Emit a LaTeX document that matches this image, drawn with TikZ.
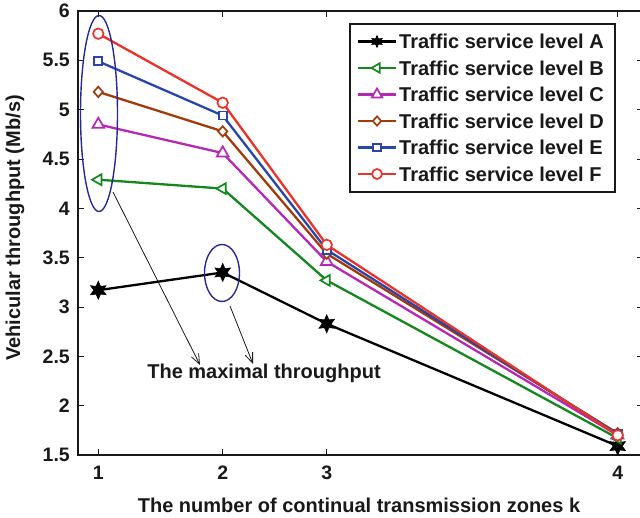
\documentclass[tikz,border=0pt]{standalone}
\usepackage{fontspec}
\setmainfont{Liberation Sans}
\usetikzlibrary{shapes.geometric,shapes.misc,arrows.meta}

\definecolor{cA}{RGB}{0,0,0}
\definecolor{cB}{RGB}{20,135,30}
\definecolor{cC}{RGB}{180,40,180}
\definecolor{cD}{RGB}{160,60,10}
\definecolor{cE}{RGB}{40,70,170}
\definecolor{cF}{RGB}{235,50,40}
\definecolor{ringblue}{RGB}{40,40,150}
\definecolor{ink}{RGB}{25,25,25}

\begin{document}
\begin{tikzpicture}[x=1pt,y=-1pt,
  declare function={py(\v)=455-(\v-1.5)*98.67;},
  every node/.style={font=\bfseries\fontsize{20}{24}\selectfont, text=ink},
  tick/.style={line width=0.9pt, ink},
  frame/.style={line width=1.5pt, ink},
  ticklab/.style={inner sep=0pt, font=\bfseries\fontsize{19.5}{23}\selectfont},
  series/.style={line width=2.3pt, line join=round},
  mkA/.style={star, star points=6, star point ratio=2.0, fill=cA, draw=cA,
              line width=0.6pt, inner sep=0pt, minimum size=18pt},
  mkB/.style={regular polygon, regular polygon sides=3, shape border rotate=90,
              draw=cB, fill=white, line width=1.7pt, inner sep=0pt, minimum size=12.5pt},
  mkC/.style={regular polygon, regular polygon sides=3,
              draw=cC, fill=white, line width=1.7pt, inner sep=0pt, minimum size=13.5pt},
  mkD/.style={diamond, draw=cD, fill=white, line width=1.7pt, inner sep=0pt,
              minimum width=10pt, minimum height=11pt},
  mkE/.style={rectangle, draw=cE, fill=white, line width=1.7pt, inner sep=0pt,
              minimum size=8pt},
  mkF/.style={circle, draw=cF, fill=white, line width=1.7pt, inner sep=0pt,
              minimum size=10.5pt},
  ring/.style={ellipse, draw=ringblue, line width=1.4pt, inner sep=0pt},
  pointer/.style={line width=0.8pt, ink, -{Straight Barb[length=10pt,width=8pt]}},
]
\useasboundingbox (0,0) rectangle (640,518);
\clip (0,0) rectangle (640,518);

% axes box and ticks
\draw[frame] (78,11) rectangle (643,455);
\foreach \xv [count=\i] in {98.3,222.7,326.7,617.7}{
  \draw[tick] (\xv,455) -- (\xv,449);
  \draw[tick] (\xv,11) -- (\xv,17);
  \node[ticklab] (xt\i) at (\xv,473) {\i};
}
\foreach \v [count=\i] in {1.5,2,2.5,3,3.5,4,4.5,5,5.5,6}{
  \draw[tick] (78,{py(\v)}) -- (84,{py(\v)});
  \draw[tick] (643,{py(\v)}) -- (637,{py(\v)});
  \node[ticklab, anchor=east] (yt\i) at (70,{py(\v)}) {\v};
}

% axis titles
\node (xlabel) at (359,505) {The number of continual transmission zones k};
\node[rotate=90] (ylabel) at (15,228) {Vehicular throughput (Mb/s)};

% series A
\coordinate (A1) at (98.3,{py(3.17)});
\coordinate (A2) at (222.7,{py(3.35)});
\coordinate (A3) at (326.7,{py(2.83)});
\coordinate (A4) at (617.7,{py(1.59)});
\draw[series, cA] (A1) -- (A2) -- (A3) -- (A4);
\foreach \i in {1,...,4} \node[mkA] (mA\i) at (A\i) {};

% series B
\coordinate (B1) at (98.3,{py(4.29)});
\coordinate (B2) at (222.7,{py(4.20)});
\coordinate (B3) at (326.7,{py(3.27)});
\coordinate (B4) at (617.7,{py(1.67)});
\draw[series, cB] (B1) -- (B2) -- (B3) -- (B4);
\foreach \i in {1,...,4} \node[mkB] (mB\i) at (B\i) {};

% series C
\coordinate (C1) at (98.3,{py(4.85)});
\coordinate (C2) at (222.7,{py(4.56)});
\coordinate (C3) at (326.7,{py(3.46)});
\coordinate (C4) at (617.7,{py(1.70)});
\draw[series, cC] (C1) -- (C2) -- (C3) -- (C4);
\foreach \i in {1,...,4} \node[mkC] (mC\i) at (C\i) {};

% series D
\coordinate (D1) at (98.3,{py(5.18)});
\coordinate (D2) at (222.7,{py(4.78)});
\coordinate (D3) at (326.7,{py(3.54)});
\coordinate (D4) at (617.7,{py(1.72)});
\draw[series, cD] (D1) -- (D2) -- (D3) -- (D4);
\foreach \i in {1,...,4} \node[mkD] (mD\i) at (D\i) {};

% series E
\coordinate (E1) at (98.3,{py(5.49)});
\coordinate (E2) at (222.7,{py(4.94)});
\coordinate (E3) at (326.7,{py(3.58)});
\coordinate (E4) at (617.7,{py(1.71)});
\draw[series, cE] (E1) -- (E2) -- (E3) -- (E4);
\foreach \i in {1,...,4} \node[mkE] (mE\i) at (E\i) {};

% series F
\coordinate (F1) at (98.3,{py(5.77)});
\coordinate (F2) at (222.7,{py(5.07)});
\coordinate (F3) at (326.7,{py(3.63)});
\coordinate (F4) at (617.7,{py(1.70)});
\draw[series, cF] (F1) -- (F2) -- (F3) -- (F4);
\foreach \i in {1,...,4} \node[mkF] (mF\i) at (F\i) {};

% highlighted maxima with pointers to the note
\node[ring, minimum width=37pt, minimum height=196pt] (ring1) at (99,113.5) {};
\node[ring, minimum width=35pt, minimum height=57pt] (ring2) at (222,273) {};
\node (note) at (264,373) {The maximal throughput};
\coordinate (p1s) at (113,192);
\coordinate (p1e) at (200,365);
\coordinate (p2s) at (230,306);
\coordinate (p2e) at (253,364);
\draw[pointer] (p1s) -- (p1e);
\draw[pointer] (p2s) -- (p2e);

% legend
\node[draw=ink, fill=white, line width=1.6pt, inner sep=0pt,
      minimum width=265pt, minimum height=168pt] (legend) at (482.5,108) {};
\foreach \s/\c/\yy in {A/cA/41.5,B/cB/68,C/cC/94.5,D/cD/121,E/cE/147.5,F/cF/174}{
  \coordinate (l\s a) at (358,\yy);
  \coordinate (l\s b) at (396,\yy);
  \draw[line width=2.3pt, \c] (l\s a) -- (l\s b);
  \node[anchor=west, inner sep=0pt] (t\s) at (399,\yy) {Traffic service level \s};
}
\node[mkA, minimum size=12pt] (kA) at (377,41.5) {};
\node[mkB, minimum size=11pt] (kB) at (377,68) {};
\node[mkC, minimum size=12pt] (kC) at (377,94.5) {};
\node[mkD, minimum width=9pt, minimum height=10pt] (kD) at (377,121) {};
\node[mkE, minimum size=7.5pt] (kE) at (377,147.5) {};
\node[mkF, minimum size=10pt] (kF) at (377,174) {};
\end{tikzpicture}
\end{document}
